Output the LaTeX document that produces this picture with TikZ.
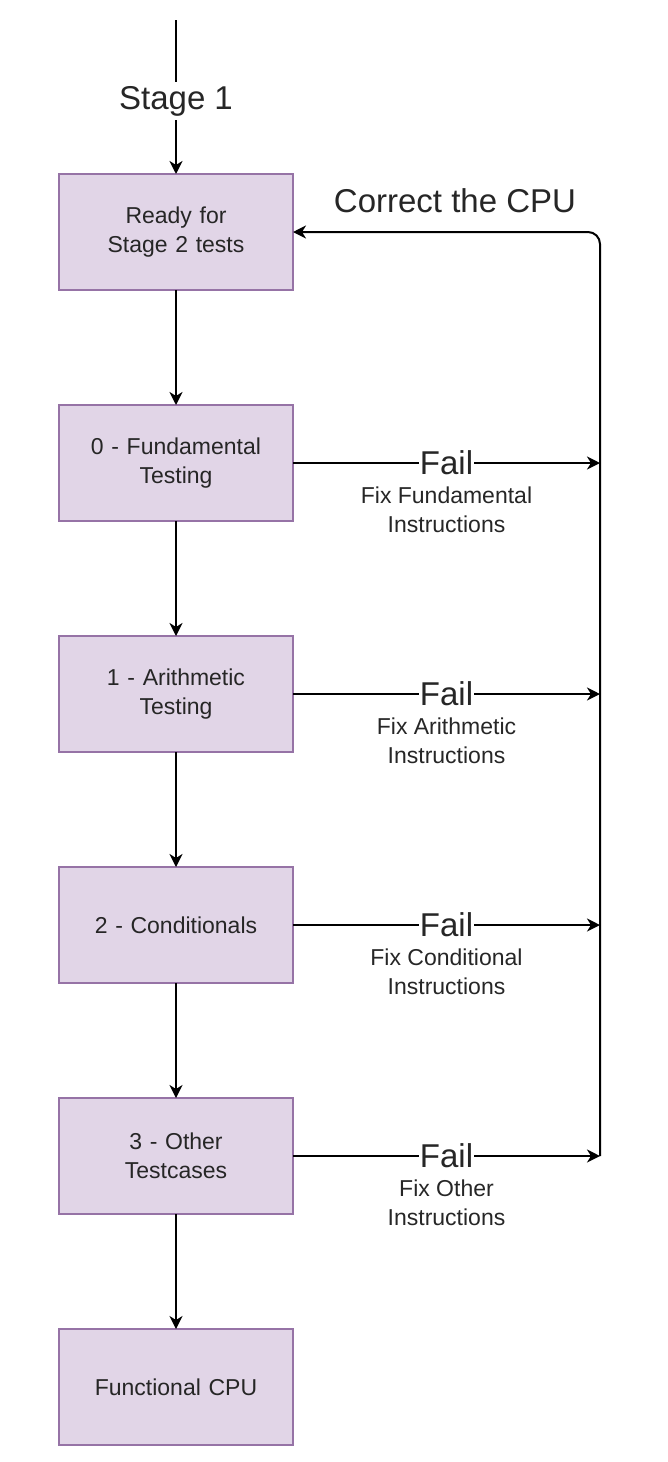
\documentclass[tikz,border=0pt]{standalone}
\usepackage{fontspec}
\setmainfont{Liberation Sans}
\usepackage{xcolor}
\usetikzlibrary{arrows.meta, calc, positioning}
\definecolor{boxfill}{HTML}{E1D5E7}
\definecolor{boxline}{HTML}{9673A6}
\definecolor{textgray}{HTML}{262626}

\begin{document}
\begin{tikzpicture}[x=1pt, y=-1pt, line width=2pt,
    stagebox/.style={draw=boxline, fill=boxfill, line width=1.5pt, outer sep=0pt,
        minimum width=234pt, minimum height=116pt, text width=224pt,
        align=center, text=textgray, font=\fontsize{23}{29}\selectfont},
    flow/.style={-{Stealth[length=13pt, width=13pt, inset=4pt]}},
    biglabel/.style={text=textgray, font=\fontsize{33}{40}\selectfont},
    smalllabel/.style={text=textgray, align=center, font=\fontsize{23}{29}\selectfont}]
    \useasboundingbox (0,0) rectangle (668,1462);

    % stage boxes
    \node[stagebox] (ready) at (176,232) {Ready for\\Stage 2 tests};
    \node[stagebox, below=115pt of ready] (fund) {0 - Fundamental\\Testing};
    \node[stagebox, below=115pt of fund] (arith) {1 - Arithmetic\\Testing};
    \node[stagebox, below=115pt of arith] (cond) {2 - Conditionals};
    \node[stagebox, below=115pt of cond] (other) {3 - Other\\Testcases};
    \node[stagebox, below=115pt of other] (func) {Functional CPU};

    % entry from stage 1
    \coordinate (entry) at (176,20);
    \node[biglabel] (stage1) at (176,101) {Stage 1};
    \draw (entry) -- (stage1);
    \draw[flow] (stage1) -- (ready);

    % main flow
    \draw[flow] (ready) -- (fund);
    \draw[flow] (fund) -- (arith);
    \draw[flow] (arith) -- (cond);
    \draw[flow] (cond) -- (other);
    \draw[flow] (other) -- (func);

    % fail branches
    \coordinate (rail) at (600,232);
    \foreach \n/\fix in {fund/Fundamental, arith/Arithmetic, cond/Conditional, other/Other} {
        \draw[flow] (\n.east) -- node[biglabel, fill=white, inner xsep=1pt, inner ysep=0pt] (\n-fail) {Fail} (\n.east -| rail);
        \node[smalllabel] (\n-fix) at ($(\n-fail)+(0,47)$) {Fix \fix\\Instructions};
    }

    % back to the start
    \draw[flow, rounded corners=12pt] (other.east -| rail) -- (rail) -- (ready.east);
    \node[biglabel] (correct) at (455,201) {Correct the CPU};
\end{tikzpicture}
\end{document}
